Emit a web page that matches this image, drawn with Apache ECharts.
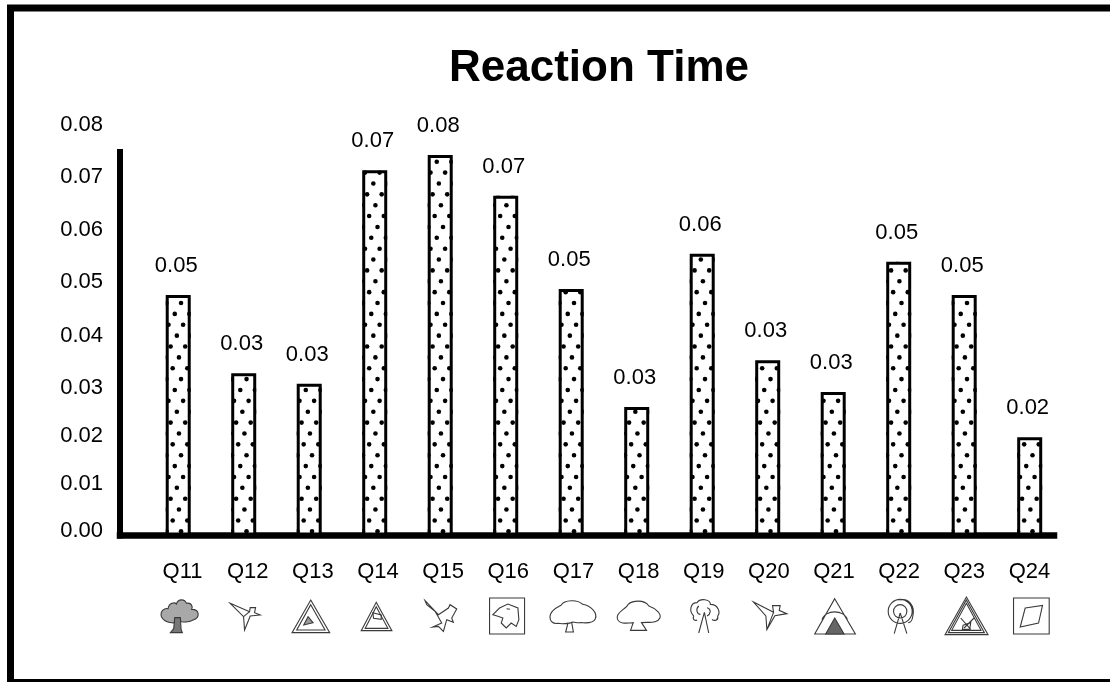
<!DOCTYPE html>
<html>
<head>
<meta charset="utf-8">
<style>html,body{margin:0;padding:0;background:#fff}#c{width:1110px;height:682px}</style>
<script src="https://cdn.jsdelivr.net/npm/echarts@6/dist/echarts.min.js"></script>
</head>
<body>
<div id="c"></div>
<script>
const titleText = 'Reaction Time';
const categories = ['Q11','Q12','Q13','Q14','Q15','Q16','Q17','Q18','Q19','Q20','Q21','Q22','Q23','Q24'];
const reactionTime = [0.0477,0.0322,0.0301,0.0725,0.0755,0.0674,0.0489,0.0255,0.0559,0.0348,0.0285,0.0543,0.0477,0.0195];
const tickLabels = ['0.00','0.01','0.02','0.03','0.04','0.05','0.06','0.07','0.08'];
// Where the printed tick labels actually sit: the reference spaces them unevenly.
const tickPlaces = [0,0.00933,0.0187,0.02815,0.03852,0.04902,0.05939,0.06968,0.08];

const INK = '#000';
const FONT = '"Liberation Sans", Arial, sans-serif';
const BAR_W = 25, BAR_BORDER = 3;

// Pictograms under the question labels: [path, fill] in a 120-unit box.
const iconPaths = [
 [['M5 62C0 45 15 35 25 38C28 20 45 18 50 24C55 8 75 8 80 22C95 18 100 32 96 40C120 40 122 65 100 72C85 82 70 78 60 76C45 84 15 82 5 62Z','#a8a8a8'],['M45 65L62 65L64 100L68 110L32 110L42 98Z','#777']],
 [['M15 22L73 47L75 35L91 35L88 50L105 57L75 60L58 102L55 62ZM55 62L73 47']],
 [['M60 12L117 110L4 110ZM60 26L103 102L18 102Z'],['M52 62L67 80L39 87Z','#999']],
 [['M60 19L107 104L15 104ZM60 32L95 97L27 97Z'],['M50 50L75 57L75 70L52 67Z']],
 [['M10 14L50 56L80 36L85 26L105 39L90 66L95 79L75 71L65 106L50 91L33 93L60 81L40 46L15 26Z']],
 [['M7 6L112 6L112 114L7 114Z'],['M17 56L37 36L62 24L92 36L95 71L87 91L72 81L57 96L42 81L47 66L32 61ZM58 38L68 40']],
 [['M-8 66C-10 45 12 35 25 28C35 10 75 10 90 25C115 30 135 50 128 68C120 85 95 80 85 80C70 82 70 78 60 78C50 84 25 84 15 82C0 84 -8 75 -8 66ZM46 80L39 108M57 80L62 108M37 108L64 108']],
 [['M-3 66C-5 50 15 42 25 32C35 10 80 10 92 30C115 38 130 55 125 66C118 82 95 78 70 80L85 103L37 103L45 80C25 82 0 85 -3 66Z']],
 [['M30 60C15 45 20 20 40 20C50 5 80 10 80 25C105 25 110 50 102 60C105 75 90 75 85 70M30 60C25 72 35 75 40 72M45 30C35 40 40 55 50 55M70 35C85 40 80 55 70 60M62 49L45 111M62 49L75 111']],
 [['M13 18L73 49L70 29L93 29L90 43L113 53L77 59L53 101L50 60ZM53 101L73 49']],
 [['M60 8L122 114L0 114ZM22 71C30 40 90 40 98 71'],['M60 66L88 114L33 114Z','#666']],
 [['M96 46A36 36 0 1 1 24 46A36 36 0 1 1 96 46ZM80 46A20 20 0 1 1 40 46A20 20 0 1 1 80 46ZM60 12C85 5 105 30 98 60C96 75 90 80 84 80M60 51L42 113M60 51L80 113']],
 [['M62 3L127 116L-2 116ZM62 12L116 110L8 110ZM62 22L106 103L18 103ZM45 66L75 100M85 66L55 96M52 88L75 80L72 100L50 100Z']],
 [['M7 6L114 6L114 114L7 114Z'],['M42 36L94 28L82 81L27 93Z']]
];

const barData = reactionTime.map((v, i) => [i, v]);

function renderDots(params, api) {
  const i = api.value(0), v = api.value(1);
  const top = api.coord([i, v]);
  const base = api.coord([i, 0]);
  const half = BAR_W / 2, r = 2.3;
  const rowH = 10.87, period = 14.6, slant = -8.343;
  const kids = [];
  const steps = Math.floor((base[1] - top[1]) / rowH) + 1;
  for (let k = 0; k < steps; k++) {
    const y = base[1] - 4.2 - k * rowH;
    let dx = 2.8 + k * slant;
    dx = ((dx % period) + period) % period - 2 * period;
    for (; dx <= half + r; dx += period) {
      if (dx < -half - r) continue;
      kids.push({type: 'circle', shape: {cx: top[0] + dx, cy: y, r: r}, style: {fill: INK, stroke: null}});
    }
  }
  return {
    type: 'group', children: kids,
    clipPath: {type: 'rect', shape: {x: top[0] - half, y: top[1], width: BAR_W, height: base[1] - top[1]}}
  };
}

function renderIcon(params, api) {
  const i = api.value(0);
  const p = api.coord([i, 0]);
  const kids = iconPaths[i].map(part => ({
    type: 'path',
    shape: {pathData: 'M-20 -20L-20 -20M140 140L140 140' + part[0], x: -160 / 6, y: -160 / 6, width: 160 / 3, height: 160 / 3, layout: 'cover'},
    style: {fill: part[1] || 'none', stroke: '#3a3a3a', lineWidth: 1.1}
  }));
  return {type: 'group', x: p[0] + 1.5, y: p[1] + 80.5, children: kids};
}

const chart = echarts.init(document.getElementById('c'), null, {renderer: 'canvas'});
chart.setOption({
  animation: false,
  backgroundColor: '#fff',
  title: {
    text: titleText, left: 594, top: 42, textAlign: 'center',
    textStyle: {fontFamily: FONT, fontSize: 44, fontWeight: 'bold', color: INK}
  },
  graphic: [{type: 'rect', shape: {x: 10.5, y: 8, width: 1300, height: 674.5}, style: {fill: 'none', stroke: INK, lineWidth: 7}, silent: true, z: 100}],
  grid: [
    {left: 120, width: 934, top: 152, height: 383.5},
    {left: 150, width: 912, top: 125, height: 406.4}
  ],
  xAxis: [
    {type: 'value', gridIndex: 0, min: -0.889, max: 13.371,
     axisLine: {show: true, onZero: false, lineStyle: {color: INK, width: 6.5, cap: 'square'}},
     axisTick: {show: false}, axisLabel: {show: false}, splitLine: {show: false}},
    {type: 'category', gridIndex: 1, data: categories,
     axisLine: {show: false}, axisTick: {show: false},
     axisLabel: {margin: 30, fontFamily: FONT, fontSize: 22, color: INK, interval: 0}}
  ],
  yAxis: [
    {type: 'value', gridIndex: 0, min: 0, max: 0.0761,
     axisLine: {show: true, onZero: false, lineStyle: {color: INK, width: 6, cap: 'square'}},
     axisTick: {show: false}, axisLabel: {show: false}, splitLine: {show: false}},
    {type: 'value', gridIndex: 1, min: 0, max: 0.08,
     axisLine: {show: false}, axisTick: {show: false}, splitLine: {show: false},
     axisLabel: {margin: 47, fontFamily: FONT, fontSize: 22, color: INK, customValues: tickPlaces,
                 formatter: v => tickLabels[tickPlaces.indexOf(v)]}}
  ],
  series: [
    {type: 'bar', xAxisIndex: 0, yAxisIndex: 0, data: barData, barWidth: BAR_W, z: 2,
     itemStyle: {color: '#fff', borderColor: INK, borderWidth: BAR_BORDER},
     label: {show: true, position: 'top', distance: 18, offset: [-2, 0], fontFamily: FONT, fontSize: 22, color: INK,
             formatter: p => p.value[1].toFixed(2)}},
    {type: 'custom', xAxisIndex: 0, yAxisIndex: 0, data: barData, renderItem: renderDots, z: 3, silent: true},
    {type: 'custom', xAxisIndex: 0, yAxisIndex: 0, data: barData, renderItem: renderIcon, z: 3, silent: true}
  ]
});
</script>
</body>
</html>
